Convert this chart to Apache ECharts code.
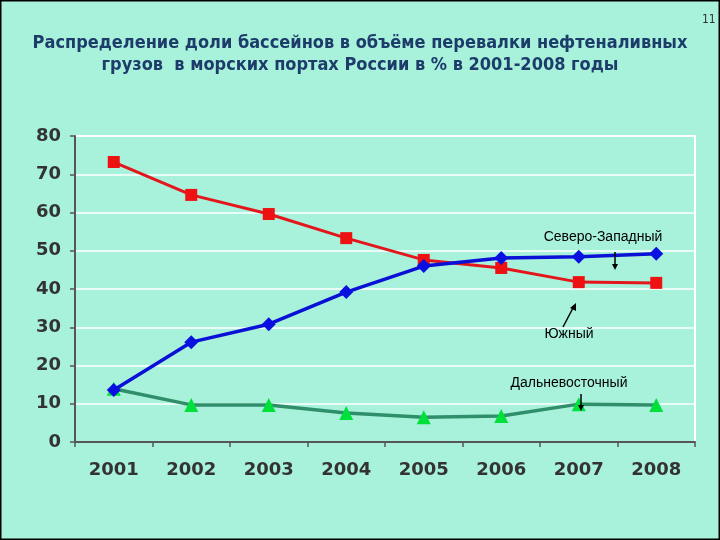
<!DOCTYPE html>
<html><head><meta charset="utf-8">
<script src="https://cdn.jsdelivr.net/npm/echarts@6/dist/echarts.min.js"></script>
<style>html,body{margin:0;padding:0;background:#000;}#c{width:720px;height:540px;}</style>
</head><body><div id="c"></div>
<script>
const years = ['2001','2002','2003','2004','2005','2006','2007','2008'];
const yTicks = [0,10,20,30,40,50,60,70,80];
const southern = [73.2, 64.6, 59.6, 53.3, 47.6, 45.5, 41.8, 41.6];
const northWestern = [13.6, 26.1, 30.8, 39.2, 46.0, 48.1, 48.4, 49.2];
const farEastern = [13.9, 9.7, 9.7, 7.6, 6.5, 6.8, 9.9, 9.7];
const seriesNames = ['Южный','Северо-Западный','Дальневосточный'];
const titleText = 'Распределение доли бассейнов в объёме перевалки нефтеналивных\nгрузов  в морских портах России в % в 2001-2008 годы';

const chart = echarts.init(document.getElementById('c'));
const bg = '#a8f2dc';
chart.setOption({
  backgroundColor: bg,
  animation: false,
  title: {
    text: titleText, left: 'center', top: 27,
    textStyle: {fontFamily: 'DejaVu Sans Condensed, DejaVu Sans', fontWeight: 'bold', fontSize: 18, color: '#1d3c6a', lineHeight: 22}
  },
  grid: {left: 75, right: 25, top: 136, bottom: 98, show: true, borderColor: '#ffffff', borderWidth: 2, backgroundColor: 'transparent'},
  xAxis: {
    type: 'category', data: years, boundaryGap: true,
    axisLine: {lineStyle: {color: '#555', width: 2}},
    axisTick: {show: true, length: 5, lineStyle: {color: '#555', width: 1.5}},
    axisLabel: {fontFamily: 'DejaVu Sans', fontWeight: 'bold', fontSize: 18, color: '#333', margin: 19}
  },
  yAxis: {
    type: 'value', min: yTicks[0], max: yTicks[yTicks.length-1], interval: 10,
    axisLine: {show: true, lineStyle: {color: '#555', width: 2}},
    axisTick: {show: true, length: 5, lineStyle: {color: '#555', width: 1.5}},
    splitLine: {show: true, lineStyle: {color: '#ffffff', width: 1.5}},
    axisLabel: {fontFamily: 'DejaVu Sans', fontWeight: 'bold', fontSize: 18, color: '#333', margin: 14}
  },
  series: [
    {name: seriesNames[0], type: 'line', data: southern, symbol: 'rect', symbolSize: 12,
     lineStyle: {color: '#e3161b', width: 3}, itemStyle: {color: '#ee1111'}, z: 3},
    {name: seriesNames[1], type: 'line', data: northWestern, symbol: 'diamond', symbolSize: 14,
     lineStyle: {color: '#0a10d6', width: 3.5}, itemStyle: {color: '#0a10e0'}, z: 4},
    {name: seriesNames[2], type: 'line', data: farEastern, symbol: 'triangle', symbolSize: 14,
     lineStyle: {color: '#2f8f6a', width: 3.5}, itemStyle: {color: '#00e03a'}, z: 2}
  ],
  graphic: [
    {type: 'text', left: 702, top: 14, style: {text: '11', fontFamily: 'DejaVu Sans Condensed', fontSize: 12, fill: '#333'}},
    {type: 'text', x: 603, y: 237, style: {text: 'Северо-Западный', align: 'center', verticalAlign: 'middle', fontFamily: 'Liberation Sans', fontSize: 14, fill: '#000'}, z: 10},
    {type: 'text', x: 569, y: 334, style: {text: 'Южный', align: 'center', verticalAlign: 'middle', fontFamily: 'Liberation Sans', fontSize: 14, fill: '#000'}, z: 10},
    {type: 'text', x: 569, y: 383, style: {text: 'Дальневосточный', align: 'center', verticalAlign: 'middle', fontFamily: 'Liberation Sans', fontSize: 14, fill: '#000'}, z: 10},
    {type: 'line', shape: {x1: 615, y1: 252, x2: 615, y2: 266}, style: {stroke: '#000', lineWidth: 1.5}, z: 10},
    {type: 'polygon', shape: {points: [[612,264],[618,264],[615,270]]}, style: {fill: '#000'}, z: 10},
    {type: 'line', shape: {x1: 563, y1: 327, x2: 573, y2: 308}, style: {stroke: '#000', lineWidth: 1.5}, z: 10},
    {type: 'polygon', shape: {points: [[570,308],[576,311],[576,303]]}, style: {fill: '#000'}, z: 10},
    {type: 'line', shape: {x1: 581, y1: 394, x2: 581, y2: 407}, style: {stroke: '#000', lineWidth: 1.5}, z: 10},
    {type: 'polygon', shape: {points: [[578,405],[584,405],[581,411]]}, style: {fill: '#000'}, z: 10},
    {type: 'rect', shape: {x: 0, y: 0, width: 720, height: 540}, style: {fill: 'none', stroke: '#000', lineWidth: 3}, z: 20, silent: true}
  ]
});
</script></body></html>
